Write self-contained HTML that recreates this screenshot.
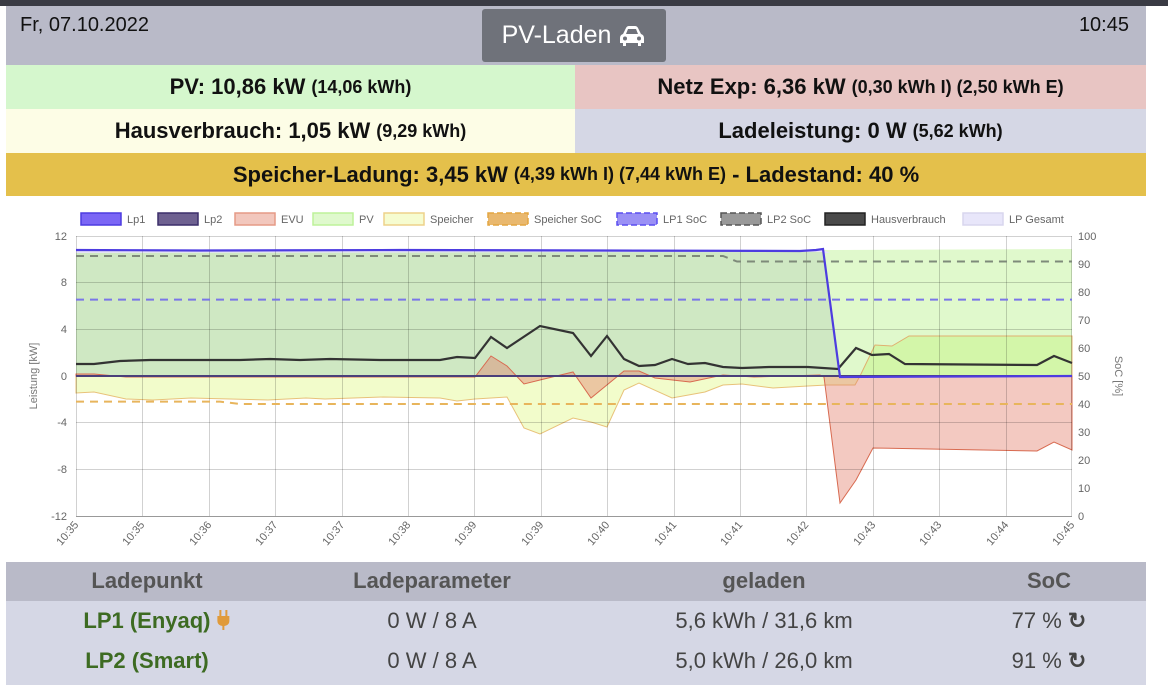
<!DOCTYPE html>
<html><head><meta charset="utf-8"><style>
html,body{margin:0;padding:0;width:1168px;height:685px;overflow:hidden;background:#fff;font-family:"Liberation Sans",sans-serif}
.top{position:absolute;left:0;top:0;width:1168px;height:6px;background:#3a3b44}
.hdr{position:absolute;left:6px;top:6px;width:1140px;height:59px;background:#b9bac8}
.cell{position:absolute;display:flex;align-items:center;justify-content:center;font-weight:bold;font-size:22px;color:#111}
.cell small{font-size:18px;margin-left:6px}
.btn{position:absolute;left:482px;top:9px;width:184px;height:53px;background:#6f727a;border-radius:3px;color:#fff;font-size:25px;display:flex;align-items:center;justify-content:center}
.tbl{position:absolute;left:6px;width:1140px}
.tc{position:absolute;transform:translateX(-50%);white-space:nowrap}
</style></head><body>
<div class="top"></div>
<div class="hdr"></div>
<div style="position:absolute;left:20px;top:14px;font-size:20px;color:#111">Fr, 07.10.2022</div>
<div style="position:absolute;right:39px;top:14px;font-size:20px;color:#111">10:45</div>
<div class="btn">PV-Laden&nbsp;<svg width="28" height="22" viewBox="0 0 28 22"><path d="M5 9 L8 3 Q9 1 11 1 L17 1 Q19 1 20 3 L23 9 Q26 10 26 13 L26 18 L23 18 L23 21 L20 21 L20 18 L8 18 L8 21 L5 21 L5 18 L2 18 L2 13 Q2 10 5 9 Z M8 9 L20 9 L18 4 L10 4 Z" fill="#fff"/><circle cx="7" cy="13.5" r="2" fill="#6f727a"/><circle cx="21" cy="13.5" r="2" fill="#6f727a"/></svg></div>
<div class="cell" style="left:6px;top:65px;width:569px;height:44px;background:#d5f7cd">PV: 10,86 kW<small>(14,06 kWh)</small></div>
<div class="cell" style="left:575px;top:65px;width:571px;height:44px;background:#e8c5c3">Netz Exp: 6,36 kW<small>(0,30 kWh I) (2,50 kWh E)</small></div>
<div class="cell" style="left:6px;top:109px;width:569px;height:44px;background:#fdfde6">Hausverbrauch: 1,05 kW<small>(9,29 kWh)</small></div>
<div class="cell" style="left:575px;top:109px;width:571px;height:44px;background:#d5d7e5">Ladeleistung: 0 W<small>(5,62 kWh)</small></div>
<div class="cell" style="left:6px;top:153px;width:1140px;height:43px;background:#e4c04b">Speicher-Ladung: 3,45 kW<small>(4,39 kWh I) (7,44 kWh E)</small>&nbsp;- Ladestand: 40 %</div>

<svg style="position:absolute;left:0;top:196px" width="1168" height="366" viewBox="0 196 1168 366" font-family="Liberation Sans, sans-serif">
<!-- fills -->
<rect x="76" y="250" width="760" height="126" fill="#e6e3f7"/>
<polygon points="76,253 830,253 823,250 836,250 1072,249 1072,376 76,376" fill="#e0f9cc"/>
<polygon points="76,253 823,252 840,376 76,376" fill="#cfe8c3"/>
<!-- speicher -->
<polygon points="76,376 76,393 94,392 126,399 153,400 191,398 268,400 306,398 325,399 383,397 440,398 457,401 475,399 507,397 524,428 540,434 573,418 591,422 607,427 624,390 639,383 672,398 705,392 723,385 742,384 773,388 808,386 827,385 855,385 860,376" fill="#f2fccb" stroke="#e8c27a" stroke-width="1"/>
<polygon points="860,376 875,345 892,346 909,336 1072,336 1072,376" fill="#d3f6a9" stroke="#e0b070" stroke-width="1"/>
<!-- EVU -->
<polygon points="76,376 76,374 94,374 126,377 300,377 475,377 491,356 507,366 524,384 540,380 573,372 591,398 624,371 639,371 655,378 690,382 723,375 754,377 820,375 824,377 840,503 856,480 873,448 1037,451 1054,442 1072,450 1072,376" fill="rgba(225,120,100,0.4)" stroke="#d86a50" stroke-width="1"/>
<!-- grid -->
<g stroke="rgba(0,0,0,0.18)" stroke-width="1">
<line x1="76" y1="236.5" x2="1072" y2="236.5"/><line x1="76" y1="282.5" x2="1072" y2="282.5"/><line x1="76" y1="329.5" x2="1072" y2="329.5"/><line x1="76" y1="376.5" x2="1072" y2="376.5"/><line x1="76" y1="422.5" x2="1072" y2="422.5"/><line x1="76" y1="469.5" x2="1072" y2="469.5"/>
<line x1="76.5" y1="236" x2="76.5" y2="516"/><line x1="142.5" y1="236" x2="142.5" y2="516"/><line x1="209.5" y1="236" x2="209.5" y2="516"/><line x1="275.5" y1="236" x2="275.5" y2="516"/><line x1="342.5" y1="236" x2="342.5" y2="516"/><line x1="408.5" y1="236" x2="408.5" y2="516"/><line x1="474.5" y1="236" x2="474.5" y2="516"/><line x1="541.5" y1="236" x2="541.5" y2="516"/><line x1="607.5" y1="236" x2="607.5" y2="516"/><line x1="674.5" y1="236" x2="674.5" y2="516"/><line x1="740.5" y1="236" x2="740.5" y2="516"/><line x1="806.5" y1="236" x2="806.5" y2="516"/><line x1="873.5" y1="236" x2="873.5" y2="516"/><line x1="939.5" y1="236" x2="939.5" y2="516"/><line x1="1006.5" y1="236" x2="1006.5" y2="516"/><line x1="1071.5" y1="236" x2="1071.5" y2="516"/>
</g>
<line x1="76" y1="516.5" x2="1072" y2="516.5" stroke="#999"/>
<!-- Lp2 -->
<line x1="76" y1="376" x2="1072" y2="376" stroke="#4a3f7a" stroke-width="2"/>
<!-- dashed -->
<polyline points="76,256 723,256 737,261.5 1072,261.5" fill="none" stroke="#7e8a7a" stroke-width="2" stroke-dasharray="8,6"/>
<line x1="76" y1="299.6" x2="1072" y2="299.6" stroke="#7a76e8" stroke-width="2" stroke-dasharray="8,6"/>
<polyline points="76,401.6 220,401.6 240,404 1072,404" fill="none" stroke="#e8b55c" stroke-width="2" stroke-dasharray="8,6"/>
<!-- Hausverbrauch -->
<polyline points="76,364 94,364 120,361 150,360 200,360 240,360 270,359 300,360 330,359 380,360 400,360 440,360 457,357 475,358 491,337 507,348 540,326 573,333 591,356 607,336 624,359 639,366 655,365 672,359 688,364 705,363 723,367 742,368 769,367 808,367 838,369 856,348 872,355 889,354 905,364 1037,365 1054,356 1072,363" fill="none" stroke="#333" stroke-width="2.2"/>
<!-- Lp1 -->
<polyline points="76,250 200,250.5 400,250 600,250.5 800,251 816,250 823,249 840,377 1072,376" fill="none" stroke="#4d3ce0" stroke-width="2.2"/>
<!-- axis labels -->
<g font-size="11" fill="#666" text-anchor="end">
<text x="67" y="240">12</text><text x="67" y="286">8</text><text x="67" y="333">4</text><text x="67" y="380">0</text><text x="67" y="426">-4</text><text x="67" y="473">-8</text><text x="67" y="520">-12</text>
</g>
<g font-size="11" fill="#666">
<text x="1078" y="240">100</text><text x="1078" y="268">90</text><text x="1078" y="296">80</text><text x="1078" y="324">70</text><text x="1078" y="352">60</text><text x="1078" y="380">50</text><text x="1078" y="408">40</text><text x="1078" y="436">30</text><text x="1078" y="464">20</text><text x="1078" y="492">10</text><text x="1078" y="520">0</text>
</g>
<text transform="translate(37,376) rotate(-90)" font-size="11" fill="#777" text-anchor="middle">Leistung [kW]</text>
<text transform="translate(1115,376) rotate(90)" font-size="11" fill="#777" text-anchor="middle">SoC [%]</text>
<g font-size="11" fill="#666" text-anchor="end">
<text transform="translate(79,525) rotate(-50)">10:35</text>
<text transform="translate(145,525) rotate(-50)">10:35</text>
<text transform="translate(212,525) rotate(-50)">10:36</text>
<text transform="translate(278,525) rotate(-50)">10:37</text>
<text transform="translate(345,525) rotate(-50)">10:37</text>
<text transform="translate(411,525) rotate(-50)">10:38</text>
<text transform="translate(477,525) rotate(-50)">10:39</text>
<text transform="translate(544,525) rotate(-50)">10:39</text>
<text transform="translate(610,525) rotate(-50)">10:40</text>
<text transform="translate(677,525) rotate(-50)">10:41</text>
<text transform="translate(743,525) rotate(-50)">10:41</text>
<text transform="translate(809,525) rotate(-50)">10:42</text>
<text transform="translate(876,525) rotate(-50)">10:43</text>
<text transform="translate(942,525) rotate(-50)">10:43</text>
<text transform="translate(1009,525) rotate(-50)">10:44</text>
<text transform="translate(1075,525) rotate(-50)">10:45</text>
</g>
<!-- legend -->
<g font-size="11" fill="#666">
<rect x="81" y="213" width="40" height="12" fill="#7b66f5" stroke="#4d3ce0" stroke-width="1.5"/><text x="127" y="223">Lp1</text>
<rect x="158" y="213" width="40" height="12" fill="#6e6190" stroke="#3b2f6a" stroke-width="1.5"/><text x="204" y="223">Lp2</text>
<rect x="235" y="213" width="40" height="12" fill="#f2c7bd" stroke="#e59a86" stroke-width="1.5"/><text x="281" y="223">EVU</text>
<rect x="313" y="213" width="40" height="12" fill="#dff9cd" stroke="#bdf29a" stroke-width="1.5"/><text x="359" y="223">PV</text>
<rect x="384" y="213" width="40" height="12" fill="#f6fcd0" stroke="#edd28a" stroke-width="1.5"/><text x="430" y="223">Speicher</text>
<rect x="488" y="213" width="40" height="12" fill="#e9b86e" stroke="#e4a640" stroke-width="1.5" stroke-dasharray="6,3"/><text x="534" y="223">Speicher SoC</text>
<rect x="617" y="213" width="40" height="12" fill="#9a90f5" stroke="#5a4ef0" stroke-width="1.5" stroke-dasharray="6,3"/><text x="663" y="223">LP1 SoC</text>
<rect x="721" y="213" width="40" height="12" fill="#999" stroke="#555" stroke-width="1.5" stroke-dasharray="6,3"/><text x="767" y="223">LP2 SoC</text>
<rect x="825" y="213" width="40" height="12" fill="#4a4a4a" stroke="#222" stroke-width="1.5"/><text x="871" y="223">Hausverbrauch</text>
<rect x="963" y="213" width="40" height="12" fill="#e8e6fa" stroke="#d8d6ee" stroke-width="1.5"/><text x="1009" y="223">LP Gesamt</text>
</g>
</svg>

<div class="tbl" style="top:562px;height:39px;background:#b9bac8"></div>
<div class="tbl" style="top:601px;height:84px;background:#d5d7e5"></div>
<div style="position:absolute;top:568px;left:0;width:1168px;font-size:22px;font-weight:bold;color:#555">
<span class="tc" style="left:147px">Ladepunkt</span><span class="tc" style="left:432px">Ladeparameter</span><span class="tc" style="left:764px">geladen</span><span class="tc" style="left:1049px">SoC</span></div>
<div style="position:absolute;top:608px;left:0;width:1168px;font-size:22px;color:#444">
<span class="tc" style="left:157px;font-weight:bold;color:#3d6b22">LP1 (Enyaq) <svg width="14" height="22" viewBox="0 0 14 22" style="vertical-align:-3px"><rect x="3" y="1" width="2" height="6" fill="#e09a3a"/><rect x="9" y="1" width="2" height="6" fill="#e09a3a"/><path d="M1 7 H13 V12 Q13 16 8 17 V21 H6 V17 Q1 16 1 12 Z" fill="#e09a3a"/></svg></span>
<span class="tc" style="left:432px">0 W / 8 A</span><span class="tc" style="left:764px">5,6 kWh / 31,6 km</span><span class="tc" style="left:1049px">77 % <b>↻</b></span></div>
<div style="position:absolute;top:648px;left:0;width:1168px;font-size:22px;color:#444">
<span class="tc" style="left:147px;font-weight:bold;color:#3d6b22">LP2 (Smart)</span>
<span class="tc" style="left:432px">0 W / 8 A</span><span class="tc" style="left:764px">5,0 kWh / 26,0 km</span><span class="tc" style="left:1049px">91 % <b>↻</b></span></div>
</body></html>
